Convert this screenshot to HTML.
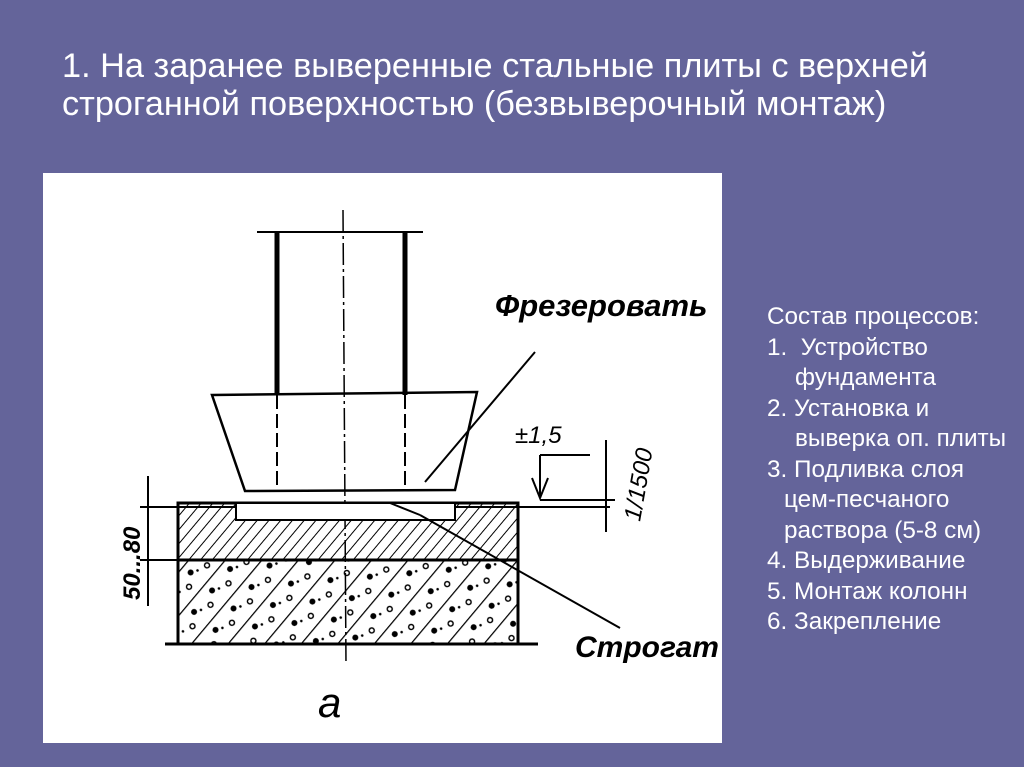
<!DOCTYPE html>
<html><head><meta charset="utf-8"><style>
body{margin:0;width:1024px;height:767px;background:#64649a;overflow:hidden;position:relative;font-family:"Liberation Sans",sans-serif;color:#fff}
.t{position:absolute;left:62px;top:47px;font-size:34.3px;line-height:38px;white-space:nowrap}
.r{position:absolute;left:767px;top:302px;font-size:24.3px;line-height:30.5px;white-space:pre}
.r div{height:30.5px}
svg{position:absolute;left:0;top:0}
</style></head><body>
<div class="t">1. На заранее выверенные стальные плиты с верхней<br>строганной поверхностью (безвыверочный монтаж)</div>
<div class="r"><div>Состав процессов:</div><div>1.  Устройство</div><div style="padding-left:28px">фундамента</div><div>2. Установка и</div><div style="padding-left:28px">выверка оп. плиты</div><div>3. Подливка слоя</div><div style="padding-left:17px">цем-песчаного</div><div style="padding-left:17px">раствора (5-8 см)</div><div>4. Выдерживание</div><div>5. Монтаж колонн</div><div>6. Закрепление</div></div>
<svg width="1024" height="767">
<defs>
<pattern id="h1" width="9" height="9" patternUnits="userSpaceOnUse" patternTransform="rotate(40)"><line x1="0" y1="0" x2="0" y2="9" stroke="#000" stroke-width="2"/></pattern>
<pattern id="h2" width="28" height="28" patternUnits="userSpaceOnUse" patternTransform="rotate(40)"><line x1="0" y1="0" x2="0" y2="28" stroke="#000" stroke-width="2.5"/><circle cx="10" cy="8" r="3" fill="#000"/><circle cx="18" cy="20" r="2.5" fill="none" stroke="#000" stroke-width="1.5"/><circle cx="14" cy="2" r="1.3" fill="#000"/></pattern>
</defs>
<rect x="43" y="173" width="679" height="570" fill="#fff"/>
<g stroke="#000" fill="none" stroke-width="2">
<line x1="257" y1="232" x2="423" y2="232"/>
<line x1="277" y1="232" x2="277" y2="395" stroke-width="5"/>
<line x1="405" y1="232" x2="405" y2="395" stroke-width="5"/>
<line x1="277" y1="395" x2="277" y2="490" stroke-dasharray="14,5"/>
<line x1="405" y1="395" x2="405" y2="490" stroke-dasharray="14,5"/>
<line x1="343" y1="210" x2="346" y2="665" stroke-width="1.5" stroke-dasharray="22,4,3,4"/>
<polygon points="212,395 477,392 455,490 245,491" stroke-width="2.5"/>
<line x1="140" y1="507" x2="610" y2="507"/>
<rect x="178" y="503" width="340" height="57" fill="url(#h1)"/>
<rect x="178" y="560" width="340" height="84" fill="url(#h2)"/>
<rect x="178" y="503" width="340" height="141" stroke-width="3"/>
<line x1="178" y1="560" x2="518" y2="560" stroke-width="3"/>
<rect x="236" y="503" width="219" height="17" fill="#fff"/>
<line x1="165" y1="644" x2="538" y2="644" stroke-width="3"/>
<line x1="148" y1="476" x2="148" y2="606"/>
<line x1="140" y1="560" x2="180" y2="560"/>
<line x1="535" y1="352" x2="425" y2="482"/>
<line x1="390" y1="503" x2="420" y2="515"/><line x1="420" y1="515" x2="620" y2="628"/>
<line x1="540" y1="455" x2="590" y2="455"/>
<line x1="540" y1="455" x2="540" y2="498"/>
<polyline points="532,478 540,498 548,478"/>
<line x1="606" y1="440" x2="606" y2="532"/>
<line x1="540" y1="500" x2="615" y2="500"/>
</g>
<g font-family="Liberation Sans,sans-serif" font-style="italic" font-weight="bold" fill="#000">
<text x="495" y="316" font-size="31">Фрезеровать</text>
<text x="575" y="657" font-size="30">Строгат</text>
<text x="515" y="443" font-size="24" font-weight="normal">±1,5</text>
<text x="318" y="717" font-size="42" font-weight="normal">a</text>
<text transform="translate(640,522) rotate(-80)" font-size="24" font-weight="normal">1/1500</text>
<text transform="translate(140,600) rotate(-90)" font-size="24">50...80</text>
</g>
</svg>
</body></html>
